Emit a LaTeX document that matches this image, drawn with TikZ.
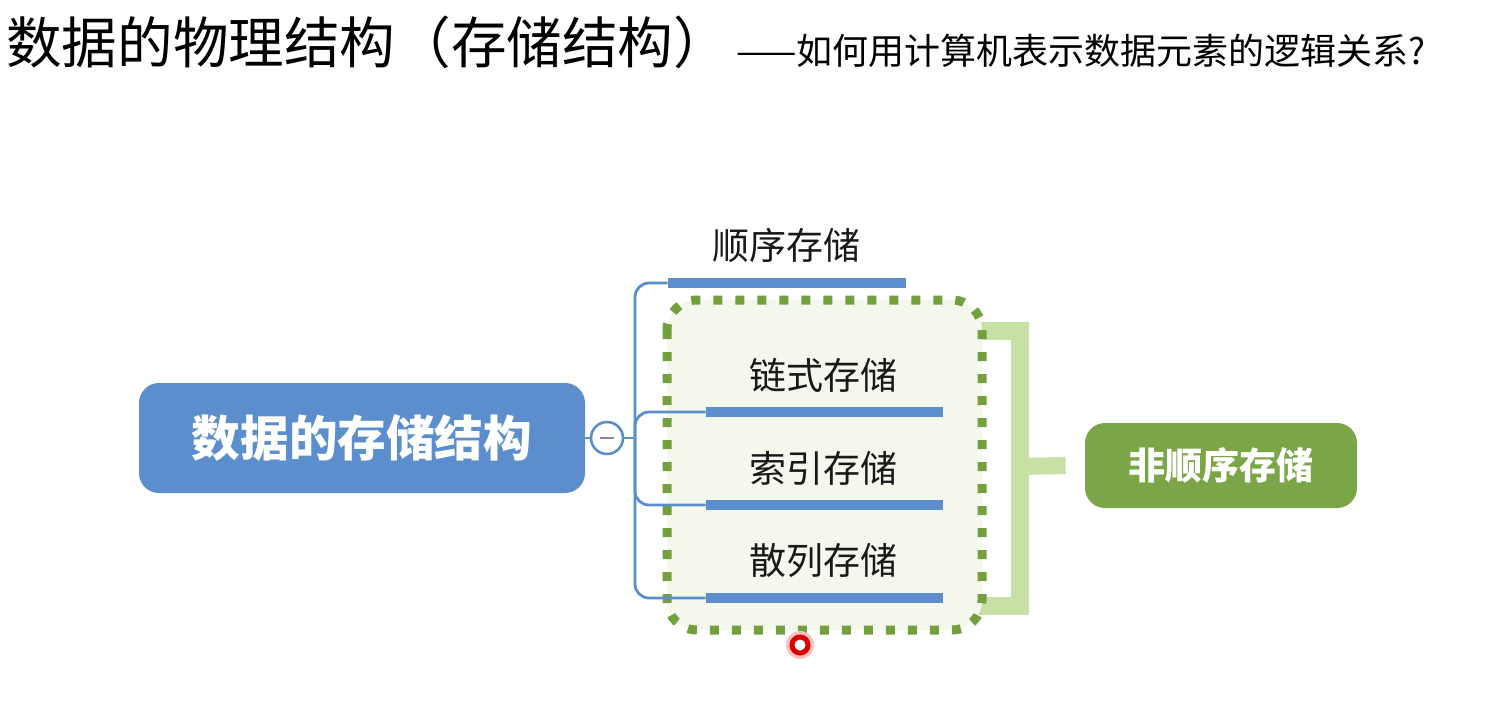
\documentclass[tikz,border=0pt]{standalone}
\usepackage{fontspec}
\setmainfont{Noto Sans CJK SC}
\usetikzlibrary{positioning}
\definecolor{mapblue}{RGB}{92,142,206}
\definecolor{leafgreen}{RGB}{123,166,72}
\definecolor{dotgreen}{RGB}{114,160,62}
\definecolor{palegreen}{RGB}{244,248,236}
\definecolor{bracegreen}{RGB}{198,224,166}
\definecolor{minusgray}{RGB}{140,128,170}
\tikzset{
  root/.style={rectangle, rounded corners=10pt, fill=mapblue, text=white,
    font=\fontsize{24.3pt}{28pt}\selectfont\bfseries,
    minimum width=223pt, minimum height=55pt, inner sep=0pt},
  fold/.style={circle, draw=mapblue, fill=white, line width=1.3pt,
    minimum size=16pt, inner sep=0pt},
  twig/.style={draw=mapblue, line width=1.4pt},
  bar/.style={rectangle, fill=mapblue, minimum height=5pt, inner sep=0pt},
  leaftext/.style={font=\fontsize{18.5pt}{22pt}\selectfont, text=black!90, inner sep=0pt},
  dotbox/.style={draw=dotgreen, fill=palegreen, line width=4.5pt,
    dash pattern=on 4.5pt off 6.5pt, rounded corners=15pt},
  brace/.style={draw=bracegreen, line width=9pt},
  group/.style={rectangle, rounded corners=10pt, fill=leafgreen, text=white,
    font=\fontsize{18.5pt}{22pt}\selectfont\bfseries,
    minimum width=136pt, minimum height=42.5pt, inner sep=0pt},
  pointer/.style={circle, draw=red!85!black, fill=white, line width=2.5pt,
    minimum size=8pt, inner sep=0pt}
}
\begin{document}
\begin{tikzpicture}[x=0.5pt,y=-0.5pt]
    \useasboundingbox (0,0) rectangle (1495,720);
    % title line
    \node[anchor=west, inner sep=0pt, font=\fontsize{27.8pt}{31pt}\selectfont] (title) at (6,42) {数据的物理结构（存储结构）};
    \node[anchor=west, inner sep=0pt, font=\fontsize{18pt}{21pt}\selectfont] (question) at (736,51) {——如何用计算机表示数据元素的逻辑关系?};
    % bracket and dotted group
    \draw[brace, line cap=butt] (973,331) -- (1019.5,331) -- (1019.5,606) -- (973,606);
    \draw[dotbox] (667,300) rectangle (982,630);
    % root and fold button
    \node[root] (root) at (362,438) {数据的存储结构};
    \node[fold] (fold) at (607,438) {};
    \draw[draw=minusgray, line width=1.4pt] ([xshift=-3.5pt]fold.center) -- ([xshift=3.5pt]fold.center);
    \coordinate (stem) at (635,438);
    % storage kinds
    \node[bar, minimum width=119pt] (seqbar) at (787,283) {};
    \node[bar, minimum width=118.5pt] (linkbar) at (824.5,412) {};
    \node[bar, minimum width=118.5pt] (idxbar) at (824.5,505) {};
    \node[bar, minimum width=118.5pt] (hashbar) at (824.5,598) {};
    \node[leaftext] (seq) at (786,245) {顺序存储};
    \node[leaftext] (link) at (823,375) {链式存储};
    \node[leaftext] (idx) at (823,468) {索引存储};
    \node[leaftext] (hash) at (823,560) {散列存储};
    \draw[twig] (root.east) -- (fold.west);
    \draw[twig] (fold.east) -- (stem);
    \draw[twig, rounded corners=7pt] (stem) |- (seqbar.west);
    \draw[twig, rounded corners=7pt] (stem) |- (linkbar.west);
    \draw[twig, rounded corners=7pt] (stem) |- (idxbar.west);
    \draw[twig, rounded corners=7pt] (stem) |- (hashbar.west);
    % non-sequential summary
    \node[group] (nonseq) at (1221,465.5) {非顺序存储};
    \draw[brace, line width=8.5pt] (1019.5,466.5) -- ([xshift=-9.5pt]nonseq.west);
    \fill[red!25] (800,645) circle (7pt);
    \node[pointer] (laser) at (800,645) {};
\end{tikzpicture}
\end{document}
